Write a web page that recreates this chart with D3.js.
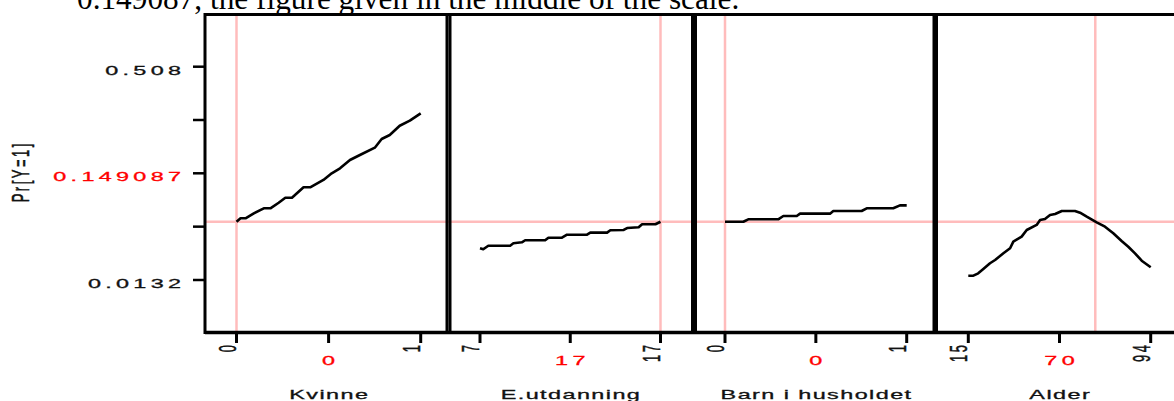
<!DOCTYPE html>
<html><head><meta charset="utf-8">
<script src="https://cdn.jsdelivr.net/npm/d3@7"></script>
<style>body{margin:0;background:#fff;} svg{display:block}</style>
</head><body>
<svg id="c" width="1174" height="401"></svg>
<script>
// ---------- data ----------
const captionText = "0.149087, the figure given in the middle of the scale.";
const yTitle = "Pr[Y=1]";
const yTickValues = [0.0132, 0.149087, 0.508];
const yTickLabels = ["0.0132", "0.149087", "0.508"];
const yRefIndex = 1;               // label drawn in red
const refProb = 0.0874;            // predicted probability for the reference person

const panelNames = ["Kvinne", "E.utdanning", "Barn i husholdet", "Alder"];
const panelDomains = [[0, 1], [7, 17], [0, 1], [15, 94]];
const panelEndLabels = [["0", "1"], ["7", "17"], ["0", "1"], ["15", "94"]];
const panelRefValues = [0, 17, 0, 70];
const panelRefLabels = ["0", "17", "0", "70"];

const kvinneX = [0, 0.022, 0.049, 0.094, 0.148, 0.184, 0.229, 0.265, 0.301, 0.364, 0.400, 0.472, 0.517, 0.562, 0.616, 0.670, 0.751, 0.788, 0.832, 0.886, 0.941, 1];
const kvinneY = [0.0874, 0.0918, 0.0918, 0.0981, 0.1045, 0.1045, 0.1116, 0.1180, 0.1180, 0.1313, 0.1313, 0.1406, 0.1491, 0.1659, 0.1939, 0.2107, 0.2353, 0.2646, 0.2780, 0.3093, 0.3262, 0.3511];

const utdX = [7, 7.18, 7.46, 8.67, 8.85, 9.32, 9.5, 10.61, 10.79, 11.54, 11.82, 12.93, 13.11, 14.04, 14.22, 14.96, 15.15, 15.79, 15.98, 16.72, 17];
const utdY = [0.0536, 0.0523, 0.0569, 0.0569, 0.0600, 0.0612, 0.0638, 0.0638, 0.0671, 0.0671, 0.0709, 0.0709, 0.0735, 0.0735, 0.0765, 0.0769, 0.0794, 0.0803, 0.0842, 0.0842, 0.0874];

const barnX = [0, 0.101, 0.128, 0.293, 0.321, 0.395, 0.413, 0.578, 0.596, 0.752, 0.780, 0.926, 0.963, 1];
const barnY = [0.0874, 0.0874, 0.0905, 0.0905, 0.0947, 0.0947, 0.0977, 0.0977, 0.1011, 0.1011, 0.1045, 0.1045, 0.1083, 0.1083];

const alderX = [15, 17.2, 19.3, 21.5, 24.4, 26.6, 30.2, 33.1, 34.5, 38.1, 40.3, 44.6, 46.1, 48.2, 50.4, 52.6, 55.5, 61.2, 63.4, 66.3, 70.6, 74.2, 77.8, 81.4, 84.3, 87.2, 90.1, 94];
const alderY = [0.0187, 0.0187, 0.0217, 0.0272, 0.0345, 0.0387, 0.0472, 0.0536, 0.0620, 0.0684, 0.0769, 0.0833, 0.0896, 0.0909, 0.0960, 0.0973, 0.1011, 0.1011, 0.0989, 0.0938, 0.0867, 0.0811, 0.0727, 0.0629, 0.0556, 0.0472, 0.0378, 0.0294];

const seriesX = [kvinneX, utdX, barnX, alderX];
const seriesY = [kvinneY, utdY, barnY, alderY];

// ---------- layout ----------
const SX = 1.8;   // horizontal stretch of the lettering
const FONT = "'Liberation Sans', Arial, Helvetica, sans-serif";
const plotTop = 14.5, plotBottom = 332.5;
const frames = [[205, 447], [450, 692.5], [695.5, 934], [936.5, 1178]];
const xRanges = [[236.5, 420.7], [480, 660.5], [725, 906.7], [968.3, 1150.7]];
const pink = "#ffbcbc";

const svg = d3.select("#c");
const y = d3.scaleLinear().domain(yTickValues).range([280, 173.3, 66.7]);

function sText(g, x, yy, str, o = {}) {
  const ls = o.ls || 0;
  const fill = o.fill || "#111";
  return g.append("text")
    .attr("transform", `translate(${x},${yy}) scale(${SX},1)` + (o.rot ? " rotate(-90)" : ""))
    .attr("x", o.anchor === "end" ? ls : (o.anchor === "middle" ? ls / 2 : 0))
    .attr("y", 0)
    .attr("font-family", FONT)
    .attr("font-size", o.size || 13)
    .attr("letter-spacing", ls)
    .attr("text-anchor", o.anchor || "start")
    .attr("fill", fill)
    .attr("stroke", fill).attr("stroke-width", 0.3)
    .text(str);
}

// caption (cut off at top, as in the source page)
svg.append("text").attr("x", 77).attr("y", 8.5)
  .attr("font-family", "'Liberation Serif', 'Times New Roman', serif")
  .attr("font-size", 31.3).attr("fill", "#000").text(captionText);

const gRef = svg.append("g");
const gLines = svg.append("g");
const gFrame = svg.append("g");
const gAxes = svg.append("g");

// horizontal reference line across all panels
gRef.append("line")
  .attr("x1", frames[0][0]).attr("x2", 1174)
  .attr("y1", y(refProb)).attr("y2", y(refProb))
  .attr("stroke", pink).attr("stroke-width", 2.5);

panelNames.forEach((name, i) => {
  const x = d3.scaleLinear().domain(panelDomains[i]).range(xRanges[i]);
  gRef.append("line")
    .attr("x1", x(panelRefValues[i])).attr("x2", x(panelRefValues[i]))
    .attr("y1", plotTop).attr("y2", plotBottom)
    .attr("stroke", pink).attr("stroke-width", 2.5);

  const pts = seriesX[i].map((v, k) => [v, seriesY[i][k]]);
  gLines.append("path")
    .attr("d", d3.line().x(d => x(d[0])).y(d => y(d[1]))(pts))
    .attr("fill", "none").attr("stroke", "#000")
    .attr("stroke-width", 2.6).attr("stroke-linejoin", "round");

  gFrame.append("rect")
    .attr("x", frames[i][0]).attr("y", plotTop)
    .attr("width", frames[i][1] - frames[i][0]).attr("height", plotBottom - plotTop)
    .attr("fill", "none").attr("stroke", "#000").attr("stroke-width", 3);

  const d0 = panelDomains[i][0], d1 = panelDomains[i][1];
  const tickVals = [d0, (d0 + d1) / 2, d1];
  tickVals.forEach(tv => {
    gAxes.append("line").attr("x1", x(tv)).attr("x2", x(tv))
      .attr("y1", plotBottom).attr("y2", 343)
      .attr("stroke", "#000").attr("stroke-width", 3);
  });
  sText(gAxes, x(d0) - 1, 345, panelEndLabels[i][0], { rot: true, anchor: "end", ls: 2.5 });
  sText(gAxes, x(d1) - 1, 345, panelEndLabels[i][1], { rot: true, anchor: "end", ls: 2.5 });
  sText(gAxes, x((d0 + d1) / 2), 365, panelRefLabels[i], { anchor: "middle", fill: "#ff0000", ls: 2.4 });
  sText(gAxes, x((d0 + d1) / 2), 399, name, { anchor: "middle", ls: 0.8 });
});

gFrame.append("line").attr("x1", frames[0][0]).attr("x2", 1174)
  .attr("y1", plotBottom).attr("y2", plotBottom)
  .attr("stroke", "#000").attr("stroke-width", 3.5);
gFrame.append("line").attr("x1", frames[0][0]).attr("x2", 1174)
  .attr("y1", plotTop).attr("y2", plotTop)
  .attr("stroke", "#000").attr("stroke-width", 3);

const yMinor = d3.pairs(yTickValues).map(([a, b]) => y.invert((y(a) + y(b)) / 2));
yTickValues.concat(yMinor).forEach(v => {
  gAxes.append("line").attr("x1", 193).attr("x2", frames[0][0])
    .attr("y1", y(v)).attr("y2", y(v))
    .attr("stroke", "#000").attr("stroke-width", 2.5);
});
yTickValues.forEach((v, k) => {
  sText(gAxes, 181, y(v) + 7.8, yTickLabels[k],
    { anchor: "end", ls: 2.4, fill: k === yRefIndex ? "#ff0000" : "#111" });
});
sText(gAxes, 29, 173, yTitle, { rot: true, anchor: "middle", ls: 2.5 });
</script>
</body></html>
